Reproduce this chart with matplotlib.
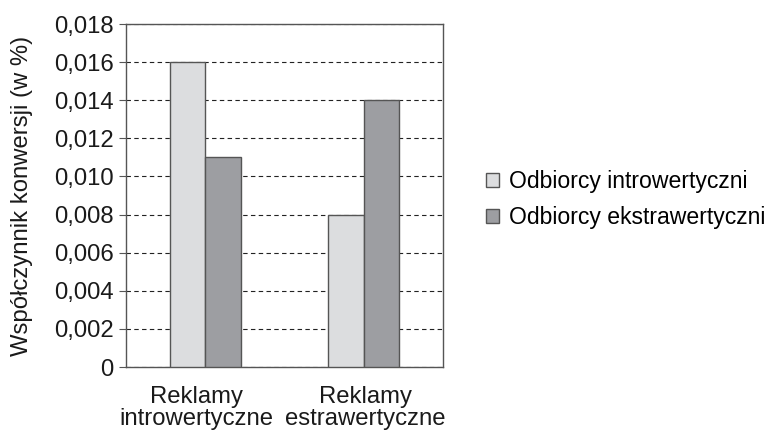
import matplotlib.pyplot as plt
import matplotlib.transforms as mtransforms
import numpy as np

plt.rcParams['font.family'] = ['Liberation Sans', 'DejaVu Sans']

categories = ['Reklamy\nintrowertyczne', 'Reklamy\nestrawertyczne']
series_names = ['Odbiorcy introwertyczni', 'Odbiorcy ekstrawertyczni']
introverts = [0.016, 0.008]
extraverts = [0.011, 0.014]
yticks = [0, 0.002, 0.004, 0.006, 0.008, 0.010, 0.012, 0.014, 0.016, 0.018]
ytick_labels = ['0', '0,002', '0,004', '0,006', '0,008', '0,010', '0,012',
                '0,014', '0,016', '0,018']

fs = 17.2

fig = plt.figure(figsize=(7.77, 4.32), dpi=100)
ax = fig.add_axes([126 / 777, 1 - 367 / 432, 317 / 777, 343 / 432])

x = np.arange(len(categories))
w = 0.225
ax.bar(x - w / 2, introverts, w, color='#dcdddf', edgecolor='#555555',
       linewidth=1, label=series_names[0], zorder=3)
ax.bar(x + w / 2, extraverts, w, color='#9d9ea2', edgecolor='#555555',
       linewidth=1, label=series_names[1], zorder=3)

ax.set_xlim(-0.5, 1.5)
ax.set_ylim(0, 0.018)
ax.set_yticks(yticks)
ax.set_yticklabels(ytick_labels)
ax.set_xticks(x)
ax.set_xticklabels(categories, linespacing=1.0)
ax.tick_params(axis='x', labelsize=fs, colors='#1a1a1a', length=0, pad=14)
ax.tick_params(axis='y', labelsize=fs, colors='#1a1a1a', length=5,
               direction='out', pad=4)
ax.tick_params(axis='y', color='#555555')

# nudge the category labels apart a little, as in the original
shifts = [-0.09, 0.02]
for lab, dx in zip(ax.get_xticklabels(), shifts):
    lab.set_transform(lab.get_transform() +
                      mtransforms.ScaledTranslation(dx, 0, fig.dpi_scale_trans))

ax.yaxis.grid(True, color='#222222', linestyle=(0, (4, 3)), linewidth=0.8)
for s in ax.spines.values():
    s.set_color('#555555')
    s.set_linewidth(1)

ax.set_ylabel('Współczynnik konwersji (w %)', fontsize=fs, color='#1a1a1a',
              labelpad=15)

fig.legend(loc='upper left', bbox_to_anchor=(477 / 777, 1 - 161 / 432),
           frameon=False, fontsize=16.6, handlelength=0.55, handleheight=0.55,
           handletextpad=0.45, labelspacing=0.55, borderaxespad=0)

fig.savefig('out.png', dpi=100)
